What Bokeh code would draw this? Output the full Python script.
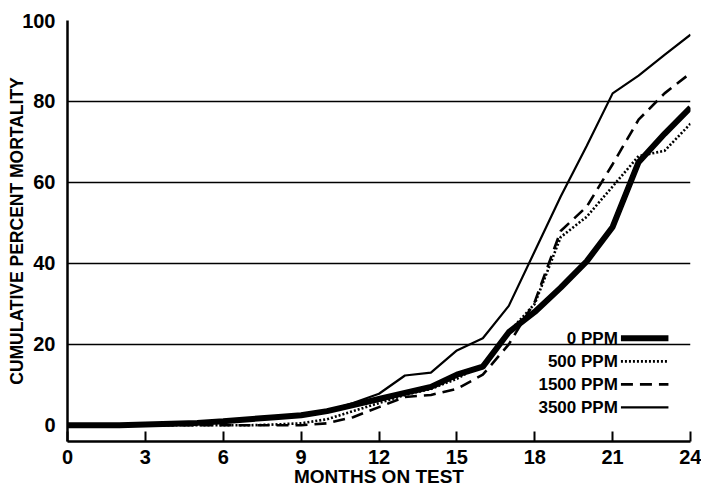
from bokeh.plotting import figure
from bokeh.models import Range1d, FixedTicker, ColumnDataSource
from bokeh.core.properties import value
from bokeh.embed import file_html
from bokeh.resources import INLINE

# ---- data ----
months = list(range(0, 25))
ppm0 = [0, 0, 0, 0.2, 0.4, 0.6, 1, 1.5, 2, 2.5, 3.5, 5, 6.5, 8, 9.5, 12.5, 14.5, 23, 28, 34, 40.5, 49, 65, 72, 78.5]
ppm500 = [0, 0, 0, 0, 0, 0, 0, 0, 0.2, 0.5, 1.5, 3.5, 5.5, 7.5, 9, 11.5, 15, 23, 30, 46.5, 51.5, 59, 66.5, 67.8, 74.5]
ppm1500 = [0, 0, 0, 0, 0, 0, 0, 0, 0, 0, 0.5, 2, 4.5, 7, 7.5, 9, 12.5, 20, 30.5, 48, 54, 64.5, 75.5, 82, 87]
ppm3500 = [0, 0, 0, 0.3, 0.5, 0.8, 1, 1.5, 2, 2.5, 3.5, 5.5, 7.8, 12.3, 13, 18.5, 21.5, 29.5, 43, 56.5, 69, 82, 86.4, 91.5, 96.5]
series_labels = ["0 PPM", "500 PPM", "1500 PPM", "3500 PPM"]
x_ticks = list(range(0, 25, 3))
y_ticks = [0, 20, 40, 60, 80, 100]
grid_levels = [20, 40, 60, 80, 100]
x_title = "MONTHS ON TEST"
y_title = "CUMULATIVE PERCENT MORTALITY"

FONT = "Liberation Sans"

p = figure(width=701, height=490, x_range=Range1d(0, 24), y_range=Range1d(-4, 100),
           output_backend="svg", toolbar_location=None,
           min_border_left=67, min_border_right=11, min_border_top=20, min_border_bottom=49)
p.outline_line_color = None
p.background_fill_color = "white"
p.border_fill_color = "white"

p.xgrid.visible = False
p.ygrid.ticker = FixedTicker(ticks=grid_levels)
p.ygrid.grid_line_color = "black"
p.ygrid.grid_line_width = 1.6

xa = p.xaxis[0]
xa.ticker = FixedTicker(ticks=x_ticks)
xa.major_tick_in = 10
xa.major_tick_out = 0
xa.minor_tick_line_color = None
xa.axis_line_width = 2.5
xa.major_tick_line_width = 2
xa.major_label_text_font = FONT
xa.major_label_text_font_style = "bold"
xa.major_label_text_font_size = "20px"
xa.major_label_standoff = 8
xa.major_label_text_color = "black"
xa.major_label_text_line_height = 0.8
xa.axis_label = x_title
xa.axis_label_text_font = FONT
xa.axis_label_text_font_style = "bold"
xa.axis_label_text_font_size = "19px"
xa.axis_label_text_line_height = 0.6
xa.axis_label_standoff = -1
xa.axis_label_text_color = "black"

ya = p.yaxis[0]
ya.ticker = FixedTicker(ticks=y_ticks)
ya.major_tick_in = 0
ya.major_tick_out = 0
ya.minor_tick_line_color = None
ya.axis_line_width = 2.5
ya.major_label_text_font = FONT
ya.major_label_text_font_style = "bold"
ya.major_label_text_font_size = "20px"
ya.major_label_standoff = 12
ya.major_label_text_color = "black"
ya.axis_label = y_title
ya.axis_label_text_font = FONT
ya.axis_label_text_font_style = "bold"
ya.axis_label_text_font_size = "17.5px"
ya.axis_label_standoff = -8
ya.axis_label_text_color = "black"

src = ColumnDataSource(dict(m=months, a=ppm0, b=ppm500, c=ppm1500, d=ppm3500))
styles = [
    ("a", 6, "solid"),
    ("b", 2.6, "2 2"),
    ("c", 2.6, "12 7"),
    ("d", 2.2, "solid"),
]
for col, w, dash in styles:
    p.line("m", col, source=src, line_color="black", line_width=w, line_dash=dash)

# ---- legend (layout positions, not data) ----
leg_rows = [21.5, 15.8, 10.1, 4.45]
leg_text_x = 21.2
leg_line_x0, leg_line_x1 = 21.32, 23.15
for (col, w, dash), lab, ry in zip(styles, series_labels, leg_rows):
    p.line([leg_line_x0, leg_line_x1], [ry, ry], line_color="black", line_width=w, line_dash=dash)
    p.text(x=[leg_text_x], y=[ry], text=[lab], text_align="right", text_baseline="middle",
           text_font=value(FONT), text_font_style="bold", text_font_size="17px", text_color="black")

open("out.html", "w").write(file_html(p, INLINE))
